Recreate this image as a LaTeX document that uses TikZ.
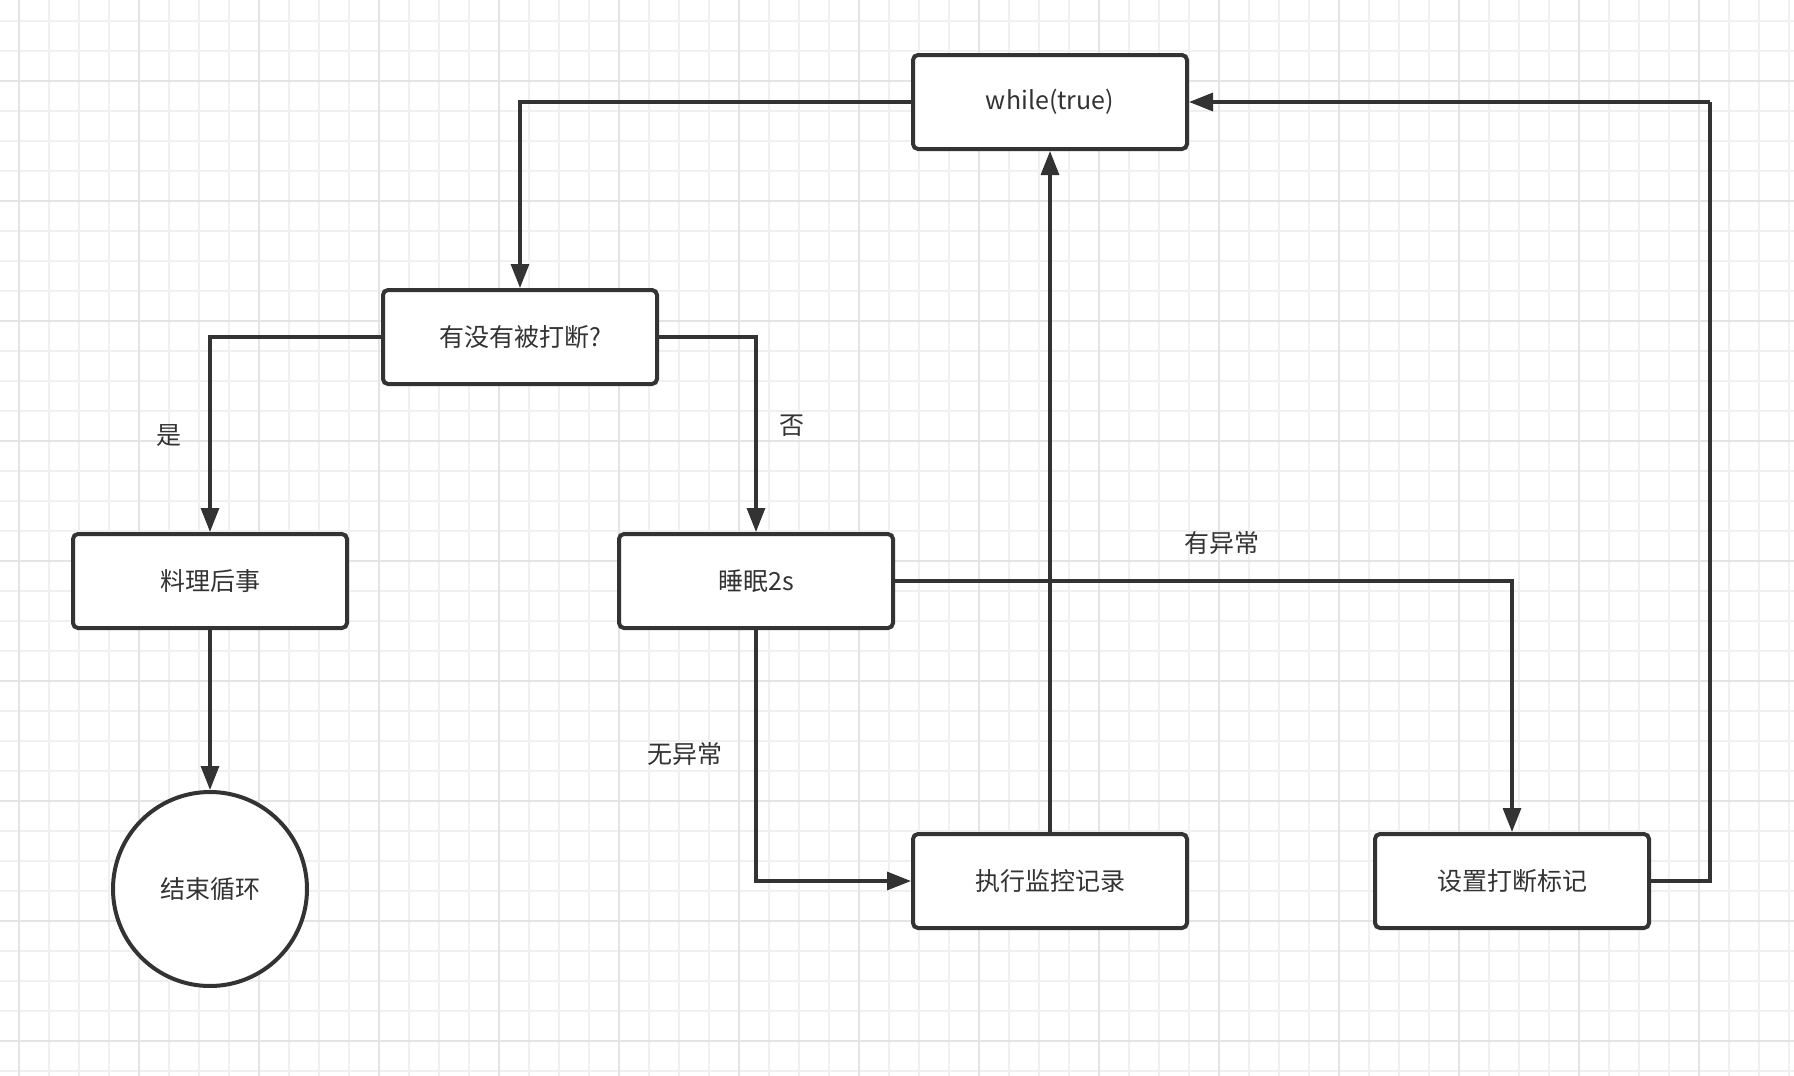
\documentclass[tikz,border=0pt]{standalone}
\usepackage{fontspec}
\newfontfamily\cjk{Noto Sans CJK SC}
\usepackage{tikz}
\usetikzlibrary{arrows.meta, positioning}
\definecolor{inkgray}{HTML}{333333}
\definecolor{minorgray}{HTML}{F0F0F0}
\definecolor{majorgray}{HTML}{E4E4E4}
\tikzset{
  stepbox/.style={
    draw=inkgray,
    fill=white,
    rounded corners=2.5pt,
    line width=2pt,
    minimum width=137pt,
    minimum height=47pt,
    text=inkgray,
    font=\cjk\fontsize{12.5}{15}\selectfont
  },
  endcircle/.style={
    circle,
    draw=inkgray,
    fill=white,
    line width=2pt,
    minimum size=97pt,
    text=inkgray,
    font=\cjk\fontsize{12.5}{15}\selectfont
  },
  flow/.style={
    -{Triangle[length=12pt, width=9pt]},
    draw=inkgray,
    line width=1.6pt
  },
  plainflow/.style={
    draw=inkgray,
    line width=1.6pt
  },
  edge label/.style={
    text=inkgray,
    font=\cjk\fontsize{12.5}{15}\selectfont
  }
}

\begin{document}
\begin{tikzpicture}[x=0.5pt, y=-0.5pt]
    \useasboundingbox (0,0) rectangle (1794,1076);

    % 背景网格
    \foreach \x in {19,49,...,1789} {
      \draw[minorgray, line width=0.9pt] (\x,0) -- (\x,1076);
    }
    \foreach \y in {21,51,...,1071} {
      \draw[minorgray, line width=0.9pt] (0,\y) -- (1794,\y);
    }
    \foreach \x in {19,139,...,1789} {
      \draw[majorgray, line width=1pt] (\x,0) -- (\x,1076);
    }
    \foreach \y in {81,201,...,1041} {
      \draw[majorgray, line width=1pt] (0,\y) -- (1794,\y);
    }

    % 结点
    \node[stepbox] (loop) at (1050,102) {while(true)};
    \node[stepbox] (check) at (520,337) {有没有被打断?};
    \node[stepbox] (cleanup) at (210,581) {料理后事};
    \node[stepbox] (sleep) at (756,581) {睡眠2s};
    \node[endcircle] (finish) at (210,889) {结束循环};
    \node[stepbox] (record) at (1050,881) {执行监控记录};
    \node[stepbox] (mark) at (1512,881) {设置打断标记};
    \coordinate (back) at (1710,102);

    % 连线
    \draw[flow] (loop.west) -| (check.north);
    \draw[flow] (check.west) -| (cleanup.north);
    \draw[flow] (check.east) -| (sleep.north);
    \draw[flow] (cleanup.south) -- (finish.north);
    \draw[flow] (sleep.south) |- (record.west);
    \draw[flow] (sleep.east) -| (mark.north);
    \draw[flow] (record.north) -- (loop.south);
    \draw[plainflow] (mark.east) -| (back);
    \draw[flow] (back) -- (loop.east);

    % 标签
    \node[edge label] (yes) at (169,436) {是};
    \node[edge label] (no) at (792,426) {否};
    \node[edge label] (error) at (1222,543) {有异常};
    \node[edge label] (noerror) at (685,754) {无异常};

  \end{tikzpicture}
\end{document}
